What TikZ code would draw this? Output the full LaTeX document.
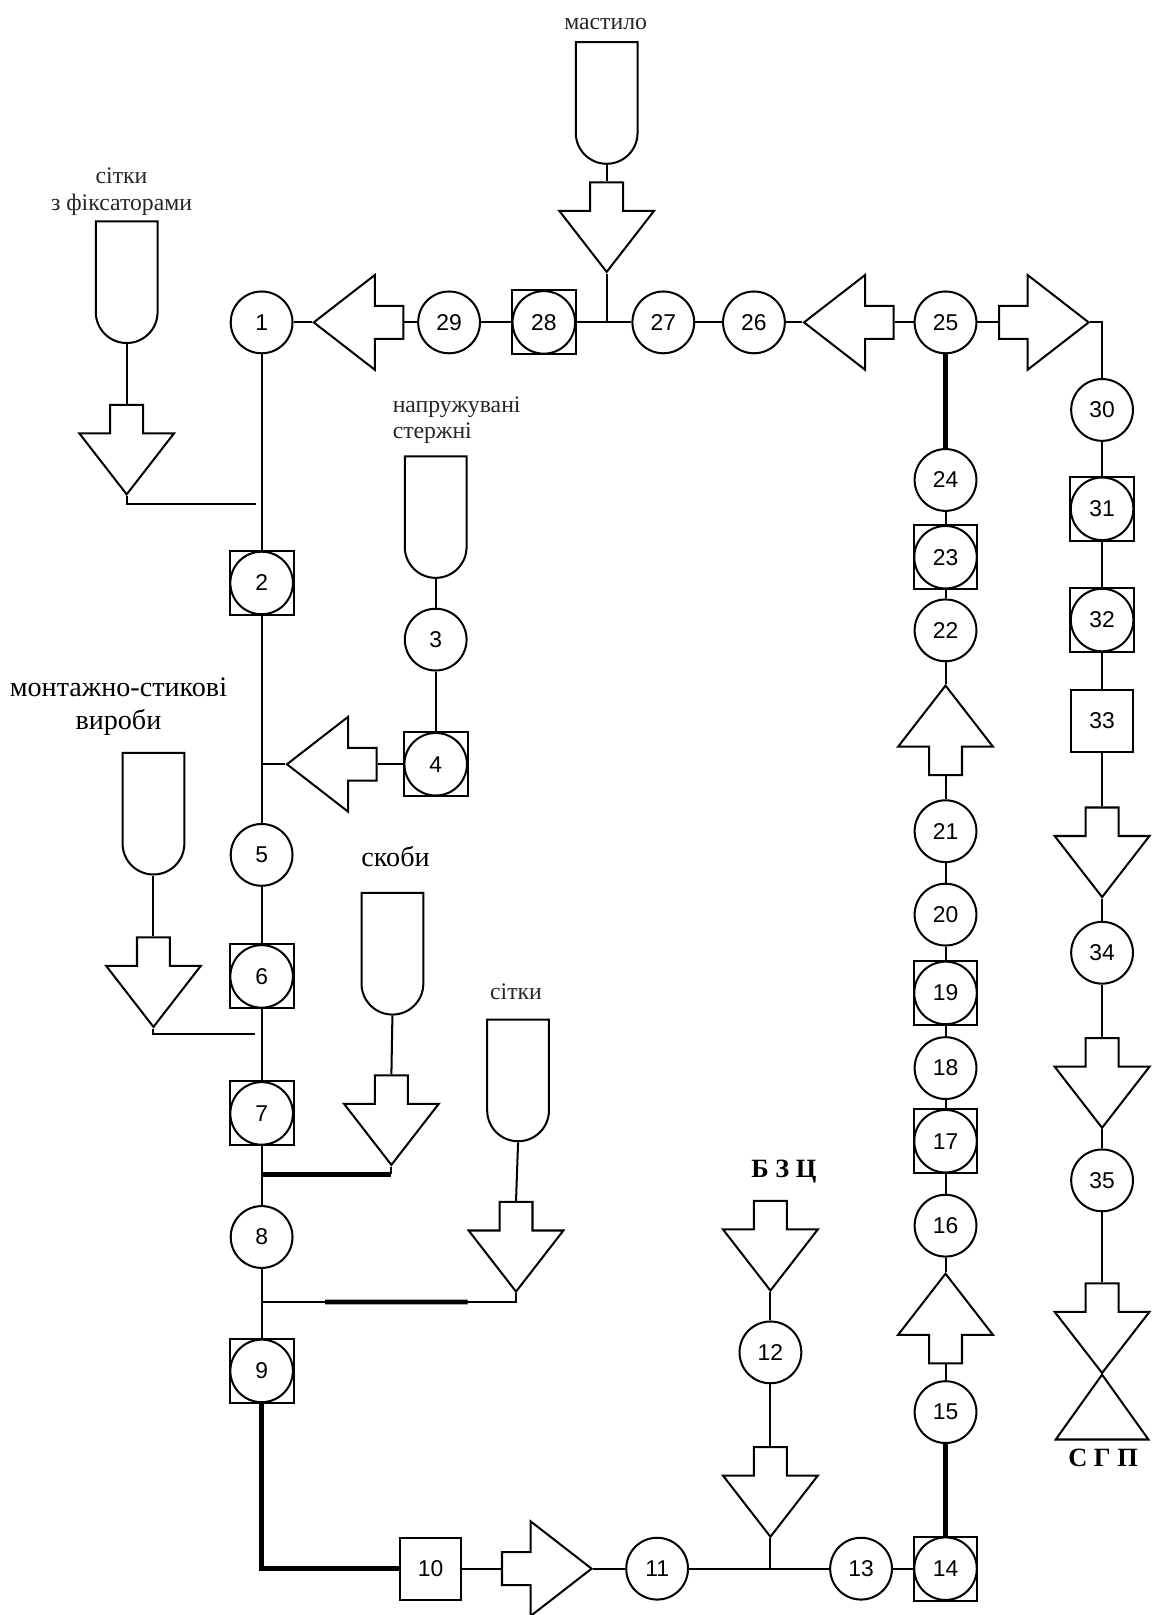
\documentclass[tikz,border=0pt]{standalone}
\usepackage{fontspec}
\setmainfont{Liberation Serif}
\newfontfamily\numfont{Liberation Sans}
\usetikzlibrary{shapes.arrows,shapes.misc,calc}
\tikzset{
  op/.style={circle, draw, line width=1.15pt, minimum size=1.235cm, inner sep=0pt, font=\numfont\fontsize{13}{15}\selectfont},
  ctl/.style={rectangle, draw, line width=1.15pt, minimum size=1.277cm, inner sep=0pt, font=\numfont\fontsize{13}{15}\selectfont,
    path picture={\draw[line width=1.15pt] (path picture bounding box.center) circle (0.625cm);}},
  box/.style={rectangle, draw, line width=1.15pt, minimum size=1.235cm, inner sep=0pt, font=\numfont\fontsize{13}{15}\selectfont},
  store/.style={rounded rectangle, rounded rectangle west arc=none, draw, line width=1.15pt,
    minimum width=2.43cm, minimum height=1.235cm, inner sep=0pt, rotate=-90},
  flow/.style={single arrow, draw, line width=1.15pt, inner xsep=0pt, inner ysep=0.309cm, minimum height=1.791cm,
    single arrow head extend=0.618cm, single arrow tip angle=75.6},
  flowdown/.style={flow, rotate=-90},
  flowup/.style={flow, rotate=90},
  flowleft/.style={flow, rotate=180},
  flowright/.style={flow},
  lbl/.style={font=\fontsize{13.5}{15}\selectfont, text=black!85, inner sep=0pt},
  biglbl/.style={font=\fontsize{16}{19}\selectfont, inner sep=0pt},
  keylbl/.style={font=\bfseries\fontsize{15}{18}\selectfont, inner sep=0pt},
  link/.style={line width=1.15pt},
  heavy/.style={line width=2.7pt}
}

\begin{document}
\begin{tikzpicture}[x=0.02059cm,y=-0.02059cm]
  \useasboundingbox (0,0) rectangle (1118,1568);

  % left column
  \node[op]  (n1) at (254,313) {1};
  \node[ctl] (n2) at (254,566) {2};
  \node[op]  (n5) at (254,830) {5};
  \node[ctl] (n6) at (254,948) {6};
  \node[ctl] (n7) at (254,1081) {7};
  \node[op]  (n8) at (254,1201) {8};
  \node[ctl] (n9) at (254,1331) {9};

  % bottom row
  \node[box] (n10) at (418,1523) {10};
  \node[flowright, anchor=tip] (f10) at (576,1523) {};
  \node[op]  (n11) at (638,1523) {11};
  \coordinate (j12) at (748,1523);
  \node[op]  (n13) at (836,1523) {13};
  \node[ctl] (n14) at (918,1523) {14};

  % middle column
  \node[op]  (n25) at (918,313) {25};
  \node[op]  (n24) at (918,466) {24};
  \node[ctl] (n23) at (918,541) {23};
  \node[op]  (n22) at (918,612) {22};
  \node[flowup, anchor=tip] (f22) at (918,664) {};
  \node[op]  (n21) at (918,807) {21};
  \node[op]  (n20) at (918,888) {20};
  \node[ctl] (n19) at (918,964) {19};
  \node[op]  (n18) at (918,1037) {18};
  \node[ctl] (n17) at (918,1108) {17};
  \node[op]  (n16) at (918,1190) {16};
  \node[flowup, anchor=tip] (f16) at (918,1235) {};
  \node[op]  (n15) at (918,1371) {15};

  % right column
  \node[op]  (n30) at (1070,398) {30};
  \node[ctl] (n31) at (1070,494) {31};
  \node[ctl] (n32) at (1070,602) {32};
  \node[box] (n33) at (1070,700) {33};
  \node[flowdown, anchor=tail] (f33) at (1070,783) {};
  \node[op]  (n34) at (1070,925) {34};
  \node[flowdown, anchor=tail] (f34) at (1070,1007) {};
  \node[op]  (n35) at (1070,1146) {35};
  \node[flowdown, anchor=tail] (f35) at (1070,1245) {};
  \draw[link] (f35.tip) -- ++(-45,63) -- ++(90,0) -- cycle;
  \node[keylbl, anchor=base] (lsgp) at (1071,1424) {С Г П};

  % top row
  \node[flowleft, anchor=tip] (f1) at (303,313) {};
  \node[op]  (n29) at (436,313) {29};
  \node[ctl] (n28) at (528,313) {28};
  \coordinate (jm) at (589,313);
  \node[op]  (n27) at (644,313) {27};
  \node[op]  (n26) at (732,313) {26};
  \node[flowleft, anchor=tip] (f26) at (779,313) {};
  \node[flowright, anchor=tail] (f25) at (969,313) {};

  % supplies
  \node[lbl, align=center] (lst1) at (118,186) {сітки\\з фіксаторами};
  \node[store, anchor=west] (st1) at (123,214) {};
  \node[flowdown, anchor=tail] (fs1) at (123,392) {};
  \coordinate (j1) at (249,489);

  \node[lbl, anchor=base] (lst2) at (588,29) {мастило};
  \node[store, anchor=west] (st2) at (589,40) {};
  \node[flowdown, anchor=tail] (fs2) at (589,176) {};

  \node[lbl, align=left, anchor=west] (lst3) at (381,408) {напружувані\\стержні};
  \node[store, anchor=west] (st3) at (423,442) {};
  \node[op]  (n3) at (423,621) {3};
  \node[ctl] (n4) at (423,742) {4};
  \node[flowleft, anchor=tip] (f4) at (277,742) {};
  \coordinate (j4) at (254,742);

  \node[biglbl, align=center] (lst4) at (115,686) {монтажно-стикові\\вироби};
  \node[store, anchor=west] (st4) at (149,730) {};
  \node[flowdown, anchor=tail] (fs4) at (149,909) {};
  \coordinate (j6) at (248,1004);

  \node[biglbl, anchor=base] (lst5) at (384,841) {скоби};
  \node[store, anchor=west] (st5) at (381,866) {};
  \node[flowdown, anchor=tail] (fs5) at (380,1043) {};
  \coordinate (k5) at (380,1140);
  \coordinate (j7) at (254,1140);

  \node[lbl, anchor=base] (lst6) at (501,970) {сітки};
  \node[store, anchor=west] (st6) at (503,989) {};
  \node[flowdown, anchor=tail] (fs6) at (501,1166) {};
  \coordinate (k6) at (501,1264);
  \coordinate (j8) at (254,1264);

  \node[keylbl, anchor=base] (lbzc) at (761,1143) {Б З Ц};
  \node[flowdown, anchor=tail] (fb) at (748,1165) {};
  \node[op] (n12) at (748,1313) {12};
  \node[flowdown, anchor=tail] (f12) at (748,1404) {};

  % connectors
  \draw[link] (n1) -- (n2);
  \draw[link] (n2) -- (n5);
  \draw[link] (n5) -- (n6);
  \draw[link] (n6) -- (n7);
  \draw[link] (n7) -- (n8);
  \draw[link] (n8) -- (n9);
  \draw[heavy] (n9) |- (n10);
  \draw[link] (n10) -- (f10.tail);
  \draw[link] (f10.tip) -- (n11);
  \draw[link] (n11) -- (n13);
  \draw[link] (n13) -- (n14);

  \draw[link] (n1) -- (f1.tip);
  \draw[link] (f1.tail) -- (n29);
  \draw[link] (n29) -- (n28);
  \draw[link] (n28) -- (n27);
  \draw[link] (n27) -- (n26);
  \draw[link] (n26) -- (f26.tip);
  \draw[link] (f26.tail) -- (n25);
  \draw[link] (n25) -- (f25.tail);
  \draw[link] (f25.tip) -| (n30);

  \draw[heavy] (n25) -- (n24);
  \draw[link] (n24) -- (n23);
  \draw[link] (n23) -- (n22);
  \draw[link] (n22) -- (f22.tip);
  \draw[link] (f22.tail) -- (n21);
  \draw[link] (n21) -- (n20);
  \draw[link] (n20) -- (n19);
  \draw[link] (n19) -- (n18);
  \draw[link] (n18) -- (n17);
  \draw[link] (n17) -- (n16);
  \draw[link] (n16) -- (f16.tip);
  \draw[link] (f16.tail) -- (n15);
  \draw[heavy] (n15) -- (n14);

  \draw[link] (n30) -- (n31);
  \draw[link] (n31) -- (n32);
  \draw[link] (n32) -- (n33);
  \draw[link] (n33) -- (f33.tail);
  \draw[link] (f33.tip) -- (n34);
  \draw[link] (n34) -- (f34.tail);
  \draw[link] (f34.tip) -- (n35);
  \draw[link] (n35) -- (f35.tail);

  \draw[link] (st1.east) -- (fs1.tail);
  \draw[link] (fs1.tip) |- (j1);
  \draw[link] (st2.east) -- (fs2.tail);
  \draw[link] (fs2.tip) -- (jm);
  \draw[link] (st3.east) -- (n3);
  \draw[link] (n3) -- (n4);
  \draw[link] (n4) -- (f4.tail);
  \draw[link] (f4.tip) -- (j4);
  \draw[link] (st4.east) -- (fs4.tail);
  \draw[link] (fs4.tip) |- (j6);
  \draw[link] (st5.east) -- (fs5.tail);
  \draw[link] (fs5.tip) -- (k5);
  \draw[heavy] (j7) -- (k5);
  \draw[link] (st6.east) -- (fs6.tail);
  \draw[link] (fs6.tip) |- (j8);
  \draw[heavy] ($(j8)!0.25!(k6)$) -- ($(j8)!0.81!(k6)$);
  \draw[link] (fb.tip) -- (n12);
  \draw[link] (n12) -- (f12.tail);
  \draw[link] (f12.tip) -- (j12);
\end{tikzpicture}
\end{document}
